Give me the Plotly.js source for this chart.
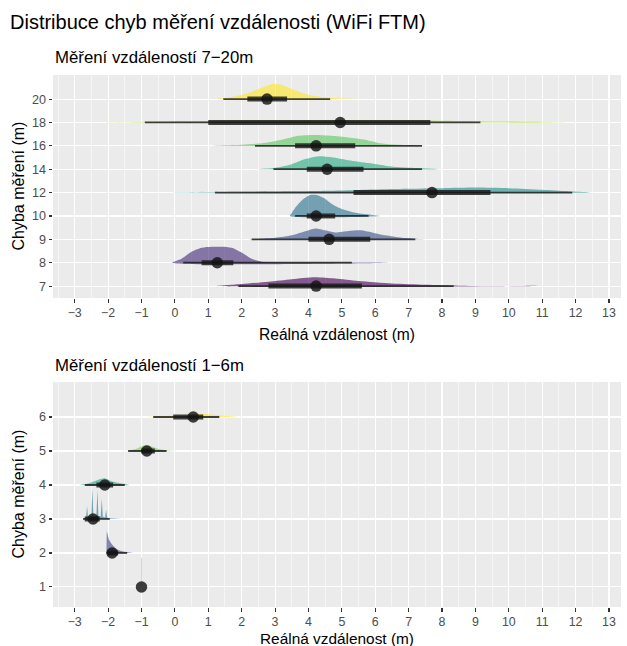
<!DOCTYPE html>
<html>
<head>
<meta charset="utf-8">
<script src="https://cdn.plot.ly/plotly-3.0.1.min.js"></script>
<style>
  html, body { margin: 0; padding: 0; background: #ffffff; }
  #chart { width: 627px; height: 646px; }
</style>
</head>
<body>
<div id="chart"></div>
<script>
// ---------------- DATA ----------------
const chartTitle = "Distribuce chyb měření vzdálenosti (WiFi FTM)";
const topTitle = "Měření vzdáleností 7−20m";
const bottomTitle = "Měření vzdáleností 1−6m";
const xTitle = "Reálná vzdálenost (m)";
const yTitle = "Chyba měření (m)";

const xTickVals = [-3,-2,-1,0,1,2,3,4,5,6,7,8,9,10,11,12,13];
const xTickText = ["−3","−2","−1","0","1","2","3","4","5","6","7","8","9","10","11","12","13"];

// Top panel (7–20 m)
const topCats   = ["7","8","9","10","12","14","16","18","20"];
const topMedian = [4.23, 1.27, 4.62, 4.23, 7.70, 4.56, 4.23, 4.95, 2.76];
const topQ66Lo  = [2.80, 0.80, 4.00, 3.95, 5.35, 3.95, 3.60, 1.00, 2.17];
const topQ66Hi  = [5.60, 1.75, 5.85, 4.80, 9.45, 5.65, 5.40, 7.65, 3.36];
const topQ95Lo  = [1.90, 0.25, 2.30, 3.60, 1.20, 2.95, 2.40, -0.90, 1.45];
const topQ95Hi  = [8.35, 5.30, 7.20, 5.80, 11.90, 7.40, 7.40, 9.15, 4.65];
const topDensX = [
  [1.24,2.0,2.8,3.5,4.2,4.8,5.5,6.5,7.5,8.5,9.37,10.3,10.6,11.05],
  [-0.08,0.2,0.5,0.8,1.1,1.4,1.7,2.0,2.3,2.6,3.2,5.3,6.56],
  [1.93,2.5,3.0,3.5,3.9,4.2,4.5,4.8,5.2,5.55,5.9,6.3,6.8,7.3,7.94],
  [3.45,3.5,3.65,3.85,4.05,4.25,4.45,4.7,5.0,5.3,5.6,5.9,6.15],
  [-0.6,0.5,2.0,3.5,5.0,6.5,8.0,9.0,10.0,11.0,11.8,12.45],
  [2.5,3.0,3.5,3.9,4.3,4.7,5.2,5.8,6.3,6.8,7.4,7.9],
  [1.05,2.0,2.6,3.2,3.7,4.2,4.7,5.2,5.7,6.1,6.6,7.3,7.95],
  [-2.1,-1,0,1,2,3,4,5,6,7,8,9,10,11,11.7],
  [0.8,1.3,1.7,2.1,2.5,2.9,3.2,3.5,3.9,4.3,4.7,5.2,5.85]
];
const topDensY = [
  [0,0.1,0.21,0.33,0.42,0.36,0.24,0.12,0.06,0.02,0,0,0.015,0],
  [0,0.19,0.52,0.71,0.76,0.76,0.71,0.48,0.19,0.05,0.015,0.01,0],
  [0,0.02,0.07,0.19,0.38,0.52,0.43,0.33,0.40,0.43,0.33,0.19,0.07,0.02,0],
  [0,0.14,0.48,0.81,1,1,0.86,0.57,0.33,0.19,0.1,0.05,0],
  [0,0.015,0.035,0.06,0.1,0.17,0.21,0.24,0.21,0.13,0.06,0],
  [0,0.07,0.24,0.48,0.62,0.57,0.43,0.29,0.17,0.09,0.04,0],
  [0,0.05,0.12,0.29,0.48,0.52,0.48,0.40,0.29,0.14,0.06,0.02,0],
  [0,0.02,0.05,0.07,0.1,0.11,0.12,0.12,0.11,0.1,0.08,0.06,0.04,0.02,0],
  [0,0.02,0.1,0.24,0.48,0.71,0.67,0.48,0.24,0.12,0.05,0.02,0]
];
const topColors = ["#440154","#472D7B","#3B528B","#2C728E","#21908C","#27AD81","#5DC863","#AADC32","#FDE725"];

// Bottom panel (1–6 m)
const botCats   = ["1","2","3","4","5","6"];
const botMedian = [-1.00, -1.88, -2.45, -2.10, -0.84, 0.55];
const botQ66Lo  = [-1.00, -2.02, -2.70, -2.35, -1.00, -0.05];
const botQ66Hi  = [-1.00, -1.70, -2.25, -1.85, -0.60, 0.85];
const botQ95Lo  = [-1.00, -2.05, -2.75, -2.70, -1.40, -0.65];
const botQ95Hi  = [-1.00, -1.43, -1.95, -1.50, -0.25, 1.33];
const botDensX = [
  [-1.0,-1.0],
  [-2.05,-2.04,-1.98,-1.9,-1.8,-1.7,-1.55,-1.4,-1.25],
  [-2.75,-2.66,-2.63,-2.60,-2.5,-2.47,-2.44,-2.35,-2.32,-2.29,-2.22,-2.19,-2.16,-2.09,-2.06,-2.03,-1.95,-1.9,-1.7,-1.6],
  [-2.85,-2.6,-2.35,-2.1,-1.9,-1.6,-1.35],
  [-1.45,-1.2,-1.0,-0.85,-0.7,-0.45,-0.2,0.0],
  [-1.0,-0.5,0.0,0.5,0.9,1.3,1.9]
];
const botDensY = [
  [0,0.95],
  [0,0.72,0.45,0.3,0.18,0.1,0.05,0.02,0],
  [0,0.05,0.42,0.05,0.1,1.0,0.1,0.1,0.95,0.1,0.08,0.68,0.08,0.05,0.3,0.05,0.02,0.02,0.02,0],
  [0,0.05,0.15,0.22,0.12,0.05,0],
  [0,0.06,0.15,0.2,0.15,0.06,0.02,0],
  [0,0.02,0.05,0.08,0.1,0.06,0]
];
const botColors = ["#440154","#414487","#2A788E","#22A884","#7AD151","#FDE725"];

// ---------------- BUILD ----------------
const FONT = "Liberation Sans, Arial, Helvetica, sans-serif";
const SLAB_SCALE = 0.9;
function hexA(h, a) {
  const r = parseInt(h.slice(1,3),16), g = parseInt(h.slice(3,5),16), b = parseInt(h.slice(5,7),16);
  return `rgba(${r},${g},${b},${a})`;
}

const traces = [];
function addPanel(cats, med, q66lo, q66hi, q95lo, q95hi, dx, dy, cols, xa, ya, smooth) {
  cats.forEach((c, i) => {
    const pos = i + 1;
    const xs = dx[i];
    const ys = dy[i].map(d => pos + d * SLAB_SCALE);
    if (xs.length === 2 && xs[0] === xs[1]) {
      traces.push({type:'scatter', mode:'lines', x: xs, y: ys, xaxis: xa, yaxis: ya,
        line:{color: hexA(cols[i],0.18), width:1}, hoverinfo:'skip', showlegend:false});
      return;
    }
    traces.push({
      type:'scatter', mode:'lines', x: xs.concat([xs[0]]), y: ys.concat([pos]),
      xaxis: xa, yaxis: ya, fill:'toself', fillcolor: hexA(cols[i], 0.62),
      line:{width:0, color: hexA(cols[i],0), shape: smooth[i] ? 'spline' : 'linear', smoothing: 0.7},
      hoverinfo:'skip', showlegend:false
    });
  });
  const tx = [], ty = [], kx = [], ky = [];
  cats.forEach((c, i) => {
    const pos = i + 1;
    tx.push(q95lo[i], q95hi[i], null); ty.push(pos, pos, null);
    kx.push(q66lo[i], q66hi[i], null); ky.push(pos, pos, null);
  });
  traces.push({type:'scatter', mode:'lines', x: tx, y: ty, xaxis: xa, yaxis: ya,
    line:{color:'rgba(25,25,25,0.82)', width:1.8}, hoverinfo:'skip', showlegend:false});
  traces.push({type:'scatter', mode:'lines', x: kx, y: ky, xaxis: xa, yaxis: ya,
    line:{color:'rgba(25,25,25,0.82)', width:5}, hoverinfo:'skip', showlegend:false});
  traces.push({type:'scatter', mode:'markers', x: med, y: cats.map((c,i)=>i+1), xaxis: xa, yaxis: ya,
    marker:{color:'rgba(20,20,20,0.82)', size:11.5, line:{width:0}}, hoverinfo:'skip', showlegend:false});
}

addPanel(topCats, topMedian, topQ66Lo, topQ66Hi, topQ95Lo, topQ95Hi, topDensX, topDensY, topColors, 'x', 'y',
  [true,true,true,true,true,true,true,true,true]);
addPanel(botCats, botMedian, botQ66Lo, botQ66Hi, botQ95Lo, botQ95Hi, botDensX, botDensY, botColors, 'x2', 'y2',
  [false,false,false,true,true,true]);

const minorVals = xTickVals.slice(0,-1).map(v => v + 0.5).concat([-3.5]);

function xAxis(anchor) {
  return {
    anchor: anchor, domain:[0,1], range:[-3.65, 13.36], tickmode:'array', tickvals: xTickVals, ticktext: xTickText,
    showgrid:true, gridcolor:'#ffffff', gridwidth:1.1, zeroline:false, showline:false,
    ticks:'outside', ticklen:3.5, tickwidth:1.1, tickcolor:'#333333',
    tickfont:{family:FONT, size:12.4, color:'#4D4D4D'},
    minor:{tickmode:'array', tickvals: minorVals, showgrid:true, gridcolor:'#ffffff', gridwidth:0.55, ticks:''},
    fixedrange:true
  };
}
function yAxis(anchor, dom, cats, rng) {
  return {
    anchor: anchor, domain: dom, range: rng, tickmode:'array', tickvals: cats.map((c,i)=>i+1), ticktext: cats,
    showgrid:true, gridcolor:'#ffffff', gridwidth:1.1, zeroline:false, showline:false,
    ticks:'outside', ticklen:3.5, tickwidth:1.1, tickcolor:'#333333',
    tickfont:{family:FONT, size:12.6, color:'#4D4D4D'}, fixedrange:true
  };
}

const layout = {
  width: 627, height: 646,
  margin:{l:53, r:6, t:75, b:39, pad:0},
  paper_bgcolor:'#ffffff', plot_bgcolor:'#EBEBEB',
  font:{family:FONT, color:'#000000'},
  showlegend:false,
  title:{text: chartTitle, x: 10/627, xanchor:'left', xref:'container', y: 1 - 22/646, yref:'container', yanchor:'middle',
    font:{family:FONT, size:20, color:'#000000'}},
  xaxis: xAxis('y'),
  yaxis: yAxis('x', [0.5808, 1], topCats, [0.49, 10.03]),
  xaxis2: xAxis('y2'),
  yaxis2: yAxis('x2', [0, 0.4229], botCats, [0.41, 7.03]),
  annotations:[
    {text: topTitle, xref:'paper', yref:'paper', x:0, y:(607-57)/532, xanchor:'left', yanchor:'middle', showarrow:false,
      font:{family:FONT, size:16.8, color:'#000000'}},
    {text: bottomTitle, xref:'paper', yref:'paper', x:0, y:(607-365)/532, xanchor:'left', yanchor:'middle', showarrow:false,
      font:{family:FONT, size:16.8, color:'#000000'}},
    {text: xTitle, xref:'paper', yref:'paper', x:0.5, y:(607-334)/532, xanchor:'center', yanchor:'middle', showarrow:false,
      font:{family:FONT, size:15.6, color:'#000000'}},
    {text: xTitle, xref:'paper', yref:'paper', x:0.5, y:(607-638)/532, xanchor:'center', yanchor:'middle', showarrow:false,
      font:{family:FONT, size:15.4, color:'#000000'}},
    {text: yTitle, xref:'paper', yref:'paper', x:(18-53)/568, y:(607-186.5)/532, xanchor:'center', yanchor:'middle', textangle:-90, showarrow:false,
      font:{family:FONT, size:16, color:'#000000'}},
    {text: yTitle, xref:'paper', yref:'paper', x:(18-53)/568, y:(607-494.5)/532, xanchor:'center', yanchor:'middle', textangle:-90, showarrow:false,
      font:{family:FONT, size:16, color:'#000000'}}
  ]
};

Plotly.newPlot('chart', traces, layout, {staticPlot:true, displayModeBar:false});
</script>
</body>
</html>
